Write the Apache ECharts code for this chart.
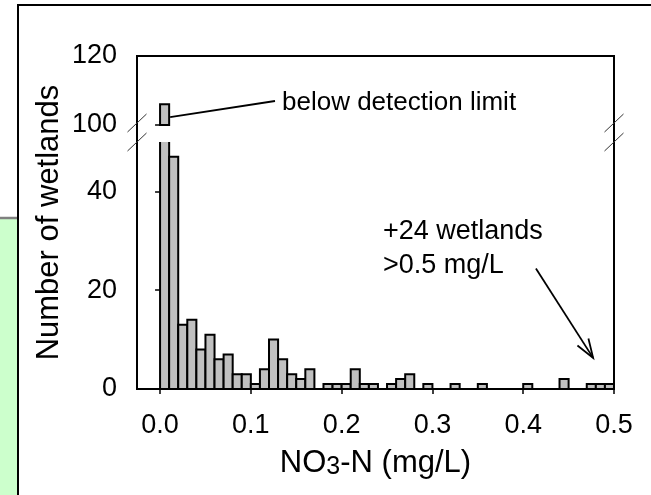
<!DOCTYPE html>
<html><head><meta charset="utf-8">
<script src="https://cdn.jsdelivr.net/npm/echarts@6/dist/echarts.min.js"></script>
<style>html,body{margin:0;padding:0;background:#fff}#c{width:651px;height:495px}</style>
</head><body><div id="c"></div>
<script>
// ---- data ----
const binLow = [0.00,0.01,0.02,0.03,0.04,0.05,0.06,0.07,0.08,0.09,
                0.10,0.11,0.12,0.13,0.14,0.15,0.16,0.17,0.18,0.19,
                0.20,0.21,0.22,0.23,0.24,0.25,0.26,0.27,0.28,0.29,
                0.30,0.31,0.32,0.33,0.34,0.35,0.36,0.37,0.38,0.39,
                0.40,0.41,0.42,0.43,0.44,0.45,0.46,0.47,0.48,0.49];
const binWidth = 0.01;
const counts = [106,47,13,14,8,11,6,7,3,3,
                1,4,10,6,3,2,4,0,1,1,
                1,4,1,1,0,1,2,3,0,1,
                0,0,1,0,0,1,0,0,0,0,
                1,0,0,0,2,0,0,1,1,1];
const xTicks = [0,0.1,0.2,0.3,0.4,0.5];
const yTicksLower = [0,20,40];
const yTicksUpper = [100,120];
const lowerRange = [0,50];
const upperRange = [100,120];
const xRange = [-0.0254,0.5];
const xTitle = ['NO','3','-N (mg/L)'];
const yTitle = 'Number of wetlands';
const noteBelow = 'below detection limit';
const noteAbove = ['+24 wetlands','>0.5 mg/L'];

// ---- build ----
const FONT = 'Liberation Sans, Arial, sans-serif';
const BAR_FILL = '#c0c0c0';
const binData = binLow.map((b,i)=>[b, b+binWidth, counts[i]]);

function rect(p0,p1){
  return {x:p0[0], y:p1[1], width:p1[0]-p0[0], height:p0[1]-p1[1]};
}
function renderLower(params, api){
  const c = api.value(2);
  if (!(c > 0)) return;
  const top = Math.min(c, lowerRange[1] + 3);
  return {type:'rect', shape: rect(api.coord([api.value(0), lowerRange[0]]), api.coord([api.value(1), top])),
          style:{fill:BAR_FILL, stroke:'#000', lineWidth:2}};
}
function renderUpper(params, api){
  const c = api.value(2);
  if (!(c > upperRange[0])) return;
  return {type:'rect', shape: rect(api.coord([api.value(0), upperRange[0]]), api.coord([api.value(1), c])),
          style:{fill:BAR_FILL, stroke:'#000', lineWidth:2}};
}

const L = 137, R = 37, TOP = 56, BOT = 106;
const UPPER_H = 69, LOWER_TOP = 142;

const tickStyle = {color:'#000', width:1.5};
const labelBase = {color:'#000', fontFamily:FONT, fontSize:27};

const option = {
  animation:false,
  backgroundColor:'#fff',
  grid:[
    {left:L, right:R, top:LOWER_TOP, bottom:BOT},
    {left:L, right:R, top:TOP, height:UPPER_H},
    {left:L, right:R, top:TOP, bottom:BOT, show:true, borderColor:'#000', borderWidth:2, backgroundColor:'transparent'}
  ],
  xAxis:[
    {gridIndex:0, type:'value', min:xRange[0], max:xRange[1],
     axisLine:{show:false}, splitLine:{show:false},
     axisTick:{show:true, length:5, customValues:xTicks, lineStyle:tickStyle},
     axisLabel:Object.assign({customValues:xTicks, margin:23, formatter:v=>v.toFixed(1)}, labelBase),
     name:'{a|'+xTitle[0]+'}{s|'+xTitle[1]+'}{a|'+xTitle[2]+'}', nameLocation:'middle', nameGap:57,
     nameTextStyle:{rich:{a:{fontSize:31, fontFamily:FONT, color:'#000', lineHeight:34},
                          s:{fontSize:25, fontFamily:FONT, color:'#000', lineHeight:24, verticalAlign:'bottom'}}}},
    {gridIndex:1, type:'value', min:xRange[0], max:xRange[1], show:false},
    {gridIndex:2, type:'value', min:xRange[0], max:xRange[1], show:false}
  ],
  yAxis:[
    {gridIndex:0, type:'value', min:lowerRange[0], max:lowerRange[1],
     axisLine:{show:false}, splitLine:{show:false},
     axisTick:{show:true, length:5, customValues:yTicksLower, lineStyle:tickStyle},
     axisLabel:Object.assign({customValues:yTicksLower, margin:20}, labelBase)},
    {gridIndex:1, type:'value', min:upperRange[0], max:upperRange[1],
     axisLine:{show:false}, splitLine:{show:false},
     axisTick:{show:true, length:5, customValues:yTicksUpper, lineStyle:tickStyle},
     axisLabel:Object.assign({customValues:yTicksUpper, margin:20}, labelBase)},
    {gridIndex:2, type:'value', min:0, max:1,
     axisLine:{show:false}, axisTick:{show:false}, axisLabel:{show:false}, splitLine:{show:false},
     name:yTitle, nameLocation:'middle', nameGap:72,
     nameTextStyle:{fontSize:31, fontFamily:FONT, color:'#000'}}
  ],
  series:[
    {type:'custom', xAxisIndex:0, yAxisIndex:0, data:binData, renderItem:renderLower, clip:true, z:3},
    {type:'custom', xAxisIndex:1, yAxisIndex:1, data:binData, renderItem:renderUpper, clip:false, z:3}
  ]
};

const chart = echarts.init(document.getElementById('c'));
chart.setOption(option);

// ---- annotations ----
const px = (g, v) => chart.convertToPixel({gridIndex:g}, v);
const lineStyle = {stroke:'#000', lineWidth:1.8};
const g = [];
// page decorations
g.push({type:'rect', shape:{x:0, y:218, width:18, height:277}, style:{fill:'#ccffcc'}, z:0});
g.push({type:'line', shape:{x1:0, y1:218, x2:18, y2:218}, style:{stroke:'#808080', lineWidth:2.5}, z:1});
g.push({type:'polyline', shape:{points:[[18,495],[18,5],[651,5]]}, style:{stroke:'#000', lineWidth:2, fill:null}, z:1});

// break marks
const upperBottom = px(1,[xRange[0], upperRange[0]])[1];
const lowerTop = px(0,[xRange[0], lowerRange[1]])[1];
const xl = px(0,[xRange[0],0])[0], xr = px(0,[xRange[1],0])[0];
[xl, xr].forEach(x=>{
  [upperBottom-2, lowerTop].forEach(y=>{
    g.push({type:'line', shape:{x1:x-9.5, y1:y+9, x2:x+9.5, y2:y-9}, style:{stroke:'#333', lineWidth:1}, z:10});
  });
});

// "below detection limit"
const a0 = px(1,[binLow[0]+binWidth, 102.3]);
g.push({type:'line', shape:{x1:a0[0]+1, y1:a0[1], x2:275, y2:101}, style:lineStyle, z:10});
g.push({type:'text', x:282, y:103, style:{text:noteBelow, font:'26px '+FONT, fill:'#000', textVerticalAlign:'middle', textAlign:'left'}, z:10});

// "+24 wetlands"
g.push({type:'text', x:383, y:232, style:{text:noteAbove[0], font:'27px '+FONT, fill:'#000', textVerticalAlign:'middle'}, z:10});
g.push({type:'text', x:383, y:266, style:{text:noteAbove[1], font:'27px '+FONT, fill:'#000', textVerticalAlign:'middle'}, z:10});
const s = px(0,[0.414, 24.4]), t = px(0,[0.477, 6.3]);
const ang = Math.atan2(s[1]-t[1], s[0]-t[0]);
const bl = 20, ha = 19*Math.PI/180;
g.push({type:'line', shape:{x1:s[0], y1:s[1], x2:t[0], y2:t[1]}, style:lineStyle, z:10});
g.push({type:'polyline', shape:{points:[
  [t[0]+bl*Math.cos(ang+ha), t[1]+bl*Math.sin(ang+ha)], t,
  [t[0]+bl*Math.cos(ang-ha), t[1]+bl*Math.sin(ang-ha)]]}, style:{stroke:'#000', lineWidth:1.8, fill:null}, z:10});

chart.setOption({graphic:g});
</script>
</body></html>
